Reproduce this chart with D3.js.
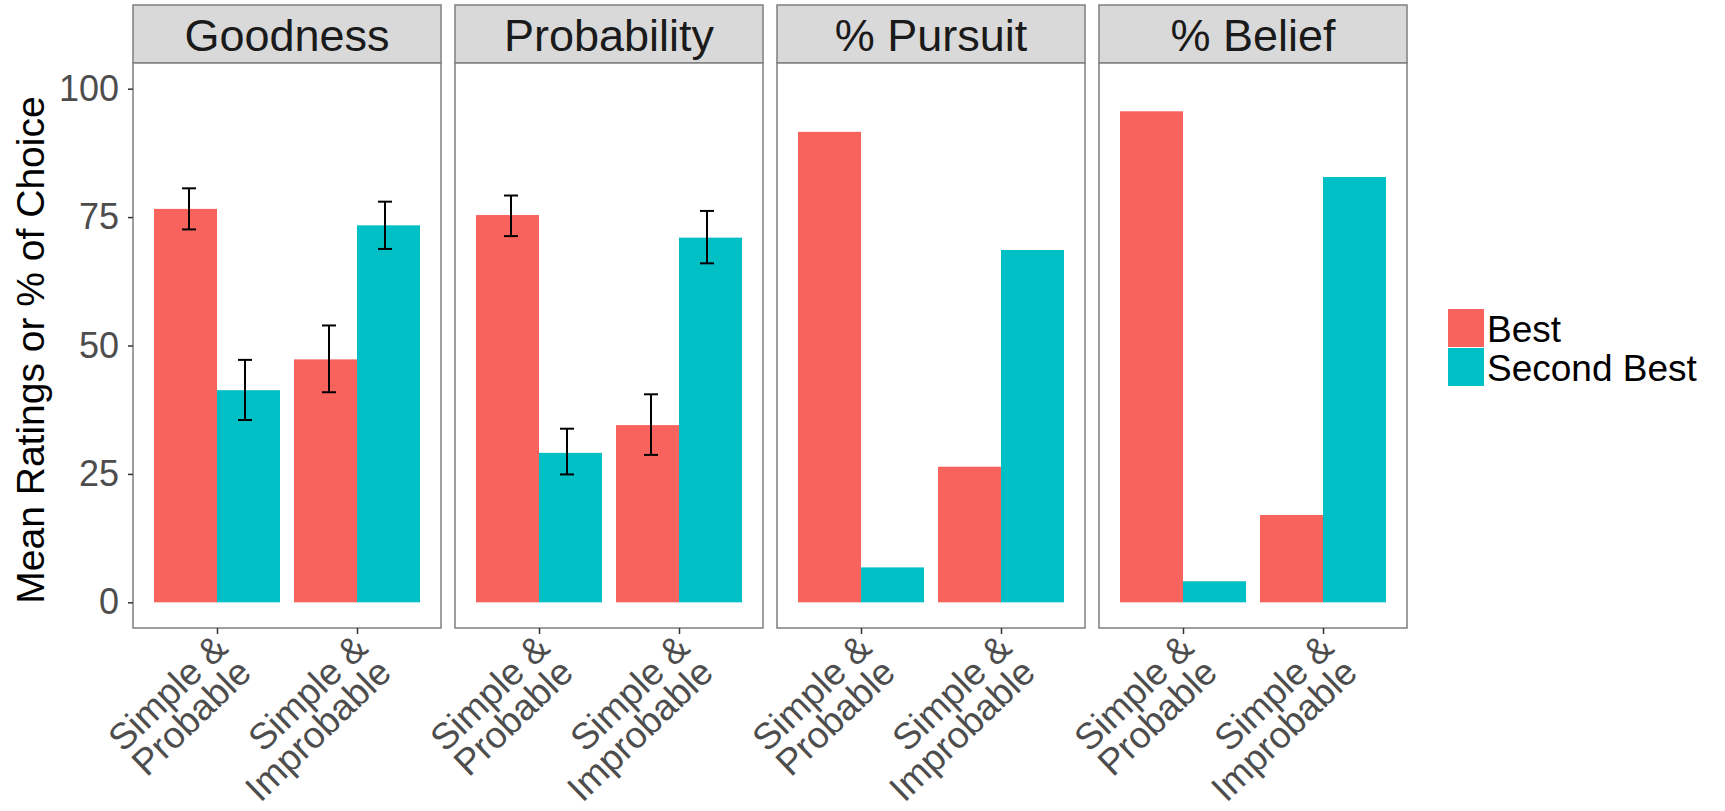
<!DOCTYPE html>
<html>
<head>
<meta charset="utf-8">
<script src="https://cdn.jsdelivr.net/npm/d3@7"></script>
<style>
  html, body { margin: 0; padding: 0; background: #ffffff; }
  svg { display: block; font-family: "Liberation Sans", Arial, Helvetica, sans-serif; }
</style>
</head>
<body>
<svg id="chart" width="1725" height="811"></svg>
<script>
// ---- data ----
const facets = ["Goodness", "Probability", "% Pursuit", "% Belief"];
const categories = ["Simple & Probable", "Simple & Improbable"];
const categoryLines = [["Simple &", "Probable"], ["Simple &", "Improbable"]];
const seriesNames = ["Best", "Second Best"];
const yTicks = [0, 25, 50, 75, 100];

// values per facet, per category
const bestValues   = [[76.6, 47.3], [75.4, 34.5], [91.6, 26.4], [95.6, 17.0]];
const secondValues = [[41.3, 73.4], [29.1, 71.0], [6.8, 68.6], [4.1, 82.8]];
// error bars (low, high) per facet, per category; null = none
const bestErrLow    = [[72.6, 40.9], [71.3, 28.7], null, null];
const bestErrHigh   = [[80.6, 53.9], [79.2, 40.5], null, null];
const secondErrLow  = [[35.5, 68.8], [24.9, 66.0], null, null];
const secondErrHigh = [[47.2, 78.0], [33.8, 76.2], null, null];

const colors = ["#F9635E", "#00C0C6"];

// ---- layout ----
const svg = d3.select("#chart");
const panelTop = 63, panelBottom = 628, stripTop = 5;
const panelW = 308, panelGap = 14, firstPanelX = 133;
const fontFam = '"Liberation Sans", Arial, Helvetica, sans-serif';

const y = d3.scaleLinear().domain([-5, 105]).range([panelBottom, panelTop]);
const x = d3.scalePoint().domain(categories).range([0, panelW]).padding(0.6);
const step = x.step();
const barW = step * 0.45;
const errOffset = step * 0.2;
const capW = step * 0.1;

facets.forEach((facet, fi) => {
  const px = firstPanelX + fi * (panelW + panelGap);
  const g = svg.append("g").attr("transform", `translate(${px},0)`);

  // strip
  g.append("rect").attr("x", 0).attr("y", stripTop).attr("width", panelW)
    .attr("height", panelTop - stripTop).attr("fill", "#d9d9d9")
    .attr("stroke", "#7f7f7f").attr("stroke-width", 1.5);
  g.append("text").attr("x", panelW / 2).attr("y", 51)
    .attr("text-anchor", "middle").attr("font-size", 45).attr("fill", "#1a1a1a")
    .text(facet);

  // panel background
  g.append("rect").attr("x", 0).attr("y", panelTop).attr("width", panelW)
    .attr("height", panelBottom - panelTop).attr("fill", "#ffffff");

  // bars
  const rows = categories.map((c, ci) => ({
    c, ci,
    vals: [bestValues[fi][ci], secondValues[fi][ci]],
    lo: [bestErrLow[fi] ? bestErrLow[fi][ci] : null, secondErrLow[fi] ? secondErrLow[fi][ci] : null],
    hi: [bestErrHigh[fi] ? bestErrHigh[fi][ci] : null, secondErrHigh[fi] ? secondErrHigh[fi][ci] : null]
  }));

  rows.forEach(r => {
    r.vals.forEach((v, si) => {
      const bx = x(r.c) - barW + si * barW;
      g.append("rect").attr("x", bx).attr("y", y(v))
        .attr("width", barW).attr("height", y(0) - y(v))
        .attr("fill", colors[si]);
    });
  });
  rows.forEach(r => {
    r.vals.forEach((v, si) => {
      if (r.lo[si] == null) return;
      const ex = x(r.c) + (si === 0 ? -errOffset : errOffset);
      const eg = g.append("g").attr("stroke", "#000").attr("stroke-width", 2).attr("fill", "none");
      eg.append("line").attr("x1", ex).attr("x2", ex).attr("y1", y(r.lo[si])).attr("y2", y(r.hi[si]));
      eg.append("line").attr("x1", ex - capW / 2).attr("x2", ex + capW / 2).attr("y1", y(r.lo[si])).attr("y2", y(r.lo[si]));
      eg.append("line").attr("x1", ex - capW / 2).attr("x2", ex + capW / 2).attr("y1", y(r.hi[si])).attr("y2", y(r.hi[si]));
    });
  });

  // panel border
  g.append("rect").attr("x", 0).attr("y", panelTop).attr("width", panelW)
    .attr("height", panelBottom - panelTop).attr("fill", "none")
    .attr("stroke", "#7f7f7f").attr("stroke-width", 1.5);

  // x axis
  const xAxis = d3.axisBottom(x).tickSize(6).tickFormat("");
  const xa = g.append("g").attr("transform", `translate(0,${panelBottom})`).call(xAxis);
  xa.select(".domain").remove();
  xa.selectAll(".tick line").attr("stroke", "#333333").attr("stroke-width", 1.5);

  // x tick labels (rotated, two lines)
  categories.forEach((c, ci) => {
    const t = g.append("text")
      .attr("transform", `translate(${x(c) - 6},${panelBottom + 3}) rotate(-44)`)
      .attr("text-anchor", "end").attr("font-size", 37).attr("fill", "#4d4d4d");
    categoryLines[ci].forEach((line, li) => {
      t.append("tspan").attr("x", 0).attr("y", 27 + li * 34).text(line);
    });
  });

  // y axis on first panel
  if (fi === 0) {
    const yAxis = d3.axisLeft(y).tickValues(yTicks).tickSize(5).tickPadding(9);
    const ya = g.append("g").call(yAxis);
    ya.select(".domain").remove();
    ya.selectAll(".tick line").attr("stroke", "#333333").attr("stroke-width", 1.5);
    ya.selectAll(".tick text").attr("font-size", 36).attr("fill", "#4d4d4d")
      .attr("font-family", fontFam);
  }
});

// y axis title
svg.append("text")
  .attr("transform", `translate(44,350) rotate(-90)`)
  .attr("text-anchor", "middle").attr("font-size", 39).attr("fill", "#000")
  .text("Mean Ratings or % of Choice");

// legend
const lg = svg.append("g").attr("transform", "translate(1448,309)");
seriesNames.forEach((s, i) => {
  lg.append("rect").attr("x", 0).attr("y", i * 39).attr("width", 36).attr("height", 38)
    .attr("fill", colors[i]);
  lg.append("text").attr("x", 39).attr("y", i * 39 + 33)
    .attr("font-size", 37).attr("fill", "#000").text(s);
});
</script>
</body>
</html>
